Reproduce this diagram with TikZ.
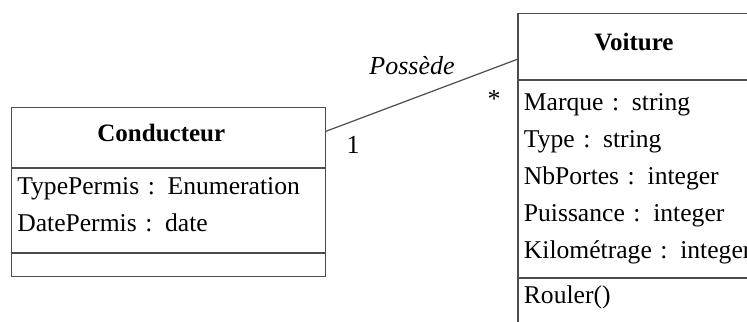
\documentclass[tikz,border=0pt]{standalone}
\usepackage{fontspec}
\setmainfont{Liberation Serif}
\usetikzlibrary{positioning}
\newcommand{\classtitle}[1]{#1\kern7pt}
\tikzstyle{classhead} = [draw=black!70, rectangle, line width=0.6pt, inner sep=3pt, text depth=4pt, font=\fontsize{12.5}{18.5}\selectfont\bfseries]
\tikzstyle{classbody} = [draw=black!70, rectangle, line width=0.6pt, inner sep=3pt, align=left, font=\fontsize{12.8}{18.5}\selectfont]
\tikzstyle{assoc} = [draw=black!70, line width=0.6pt]
\tikzstyle{role} = [inner sep=0pt, font=\fontsize{13}{18.5}\selectfont]

\begin{document}
\begin{tikzpicture}[x=0.5pt, y=-0.5pt]
    \useasboundingbox (0,0) rectangle (747,321);
    \clip (0,0) rectangle (747,321);
    % class Conducteur
    \node (cond) [classhead, anchor=north west, minimum width=157pt, minimum height=30pt] at (10.7,106.7) {\classtitle{Conducteur}};
    \node (condattr) [classbody, below=0pt of cond, text width=151pt, minimum height=42pt, text depth=24pt] {TypePermis : Enumeration\\DatePermis : date};
    \node (condop) [classbody, below=0pt of condattr, text width=151pt, minimum height=11.5pt, inner ysep=0pt] {};
    
    % class Voiture
    \node (voit) [classhead, anchor=north west, minimum width=123pt, minimum height=33pt] at (517.3,12.7) {\classtitle{Voiture}};
    \node (voitattr) [classbody, below=0pt of voit, text width=117pt, minimum height=98.5pt] {Marque : string\\Type : string\\NbPortes : integer\\Puissance : integer\\Kilométrage : integer};
    \node (voitop) [classbody, below=0pt of voitattr, text width=117pt, minimum height=30pt, text depth=14pt] {Rouler()};
    
    % association
    \draw [assoc] ([yshift=3pt]cond.east) -- ([yshift=-6.5pt]voit.west);
    \node (asname) [role, font=\fontsize{13}{18.5}\selectfont\itshape] at (412,66) {Possède};
    \node (mulvoit) [role] at (494,99) {*};
    \node (mulcond) [role] at (353,145) {1};
\end{tikzpicture}
\end{document}
